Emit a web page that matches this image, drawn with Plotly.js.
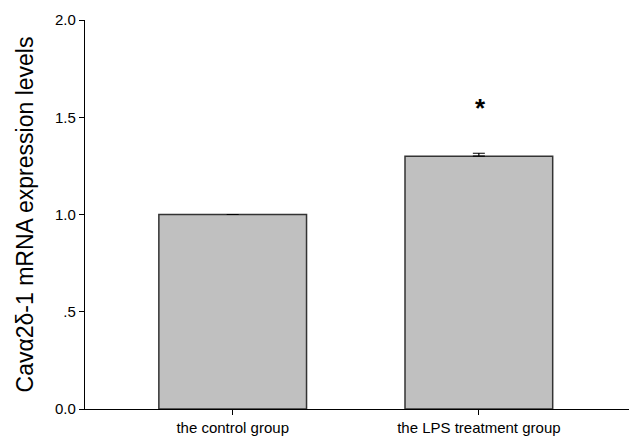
<!DOCTYPE html>
<html>
<head>
<meta charset="utf-8">
<script src="https://cdn.plot.ly/plotly-3.0.1.min.js"></script>
<style>html,body{margin:0;padding:0;background:#fff;}#chart{width:629px;height:437px;}</style>
</head>
<body>
<div id="chart"></div>
<script>
const categories = ["the control group", "the LPS treatment group"];
const values = [1.0, 1.30];
const errorsUp = [null, 0.015];
const yTickVals = [0, 0.5, 1.0, 1.5, 2.0];
const yTickText = ["0.0", ".5", "1.0", "1.5", "2.0"];
const sigMarks = ["", "*"];

const trace = {
  type: "bar",
  x: [0, 1],
  y: values,
  width: 0.6,
  marker: {color: "#c0c0c0", line: {color: "#333333", width: 1.5}},
  error_y: {type: "data", symmetric: false, array: errorsUp, arrayminus: [null, 0], visible: true, color: "#000", thickness: 1.2, width: 6},
  hoverinfo: "none"
};

const annotations = [];
sigMarks.forEach((m, i) => {
  if (m) annotations.push({x: i, y: values[i] + 0.25, xref: "x", yref: "y", xshift: 2, text: "<b>" + m + "</b>", showarrow: false,
    font: {family: "Liberation Sans, Arial", size: 26, color: "#000"}});
});

const layout = {
  width: 629, height: 437,
  margin: {l: 85, r: 0, t: 20, b: 28},
  paper_bgcolor: "#fff", plot_bgcolor: "#fff",
  showlegend: false,
  font: {family: "Liberation Sans, Arial", size: 15, color: "#000"},
  xaxis: {
    range: [-0.6, 1.61],
    tickmode: "array", tickvals: [0, 1], ticktext: categories,
    ticks: "outside", ticklen: 5, tickcolor: "#000", tickwidth: 1,
    showline: true, linecolor: "#000", linewidth: 1.2,
    showgrid: false, zeroline: false,
    tickfont: {size: 15}
  },
  yaxis: {
    range: [0, 2.0],
    tickmode: "array", tickvals: yTickVals, ticktext: yTickText,
    ticks: "outside", ticklen: 5, tickcolor: "#000", tickwidth: 1,
    showline: true, linecolor: "#000", linewidth: 1.2,
    showgrid: false, zeroline: false,
    tickfont: {size: 15},
    title: {text: "Cavα2δ-1 mRNA expression levels", font: {size: 23}, standoff: 14}
  },
  annotations: annotations
};

Plotly.newPlot("chart", [trace], layout, {displayModeBar: false, staticPlot: true});
</script>
</body>
</html>
